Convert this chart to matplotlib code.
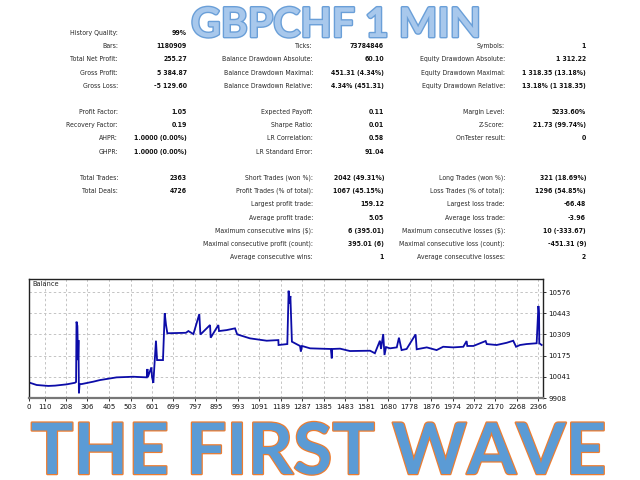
import matplotlib
matplotlib.use("Agg")
import matplotlib.pyplot as plt
import matplotlib.patheffects as pe
from matplotlib import font_manager

# ---------------- data ----------------
col1_rows = [0, 1, 2, 3, 4, 6, 7, 8, 9, 11, 12]
col1_labels = ["History Quality:", "Bars:", "Total Net Profit:", "Gross Profit:", "Gross Loss:",
               "Profit Factor:", "Recovery Factor:", "AHPR:", "GHPR:", "Total Trades:", "Total Deals:"]
col1_values = ["99%", "1180909", "255.27", "5 384.87", "-5 129.60",
               "1.05", "0.19", "1.0000 (0.00%)", "1.0000 (0.00%)", "2363", "4726"]

col2_rows = [1, 2, 3, 4, 6, 7, 8, 9, 11, 12, 13, 14, 15, 16, 17]
col2_labels = ["Ticks:", "Balance Drawdown Absolute:", "Balance Drawdown Maximal:", "Balance Drawdown Relative:",
               "Expected Payoff:", "Sharpe Ratio:", "LR Correlation:", "LR Standard Error:",
               "Short Trades (won %):", "Profit Trades (% of total):", "Largest profit trade:",
               "Average profit trade:", "Maximum consecutive wins ($):", "Maximal consecutive profit (count):",
               "Average consecutive wins:"]
col2_values = ["73784846", "60.10", "451.31 (4.34%)", "4.34% (451.31)",
               "0.11", "0.01", "0.58", "91.04",
               "2042 (49.31%)", "1067 (45.15%)", "159.12",
               "5.05", "6 (395.01)", "395.01 (6)", "1"]

col3_rows = [1, 2, 3, 4, 6, 7, 8, 11, 12, 13, 14, 15, 16, 17]
col3_labels = ["Symbols:", "Equity Drawdown Absolute:", "Equity Drawdown Maximal:", "Equity Drawdown Relative:",
               "Margin Level:", "Z-Score:", "OnTester result:",
               "Long Trades (won %):", "Loss Trades (% of total):", "Largest loss trade:",
               "Average loss trade:", "Maximum consecutive losses ($):", "Maximal consecutive loss (count):",
               "Average consecutive losses:"]
col3_values = ["1", "1 312.22", "1 318.35 (13.18%)", "13.18% (1 318.35)",
               "5233.60%", "21.73 (99.74%)", "0",
               "321 (18.69%)", "1296 (54.85%)", "-66.48",
               "-3.96", "10 (-333.67)", "-451.31 (9)", "2"]

trade_no = [43, 74, 127, 158, 211, 249, 254, 256, 260, 263, 265, 267, 270, 280, 333, 363, 439, 515,
            577, 580, 582, 598, 601, 607, 619, 624, 651, 659, 665, 671, 756, 767, 790, 817, 822,
            866, 869, 904, 907, 942, 980, 990, 1048, 1125, 1178, 1179, 1219, 1225, 1229, 1233, 1240,
            1277, 1281, 1286, 1323, 1368, 1418, 1422, 1424, 1460, 1505, 1597, 1619, 1642, 1647,
            1657, 1663, 1670, 1688, 1719, 1729, 1741, 1764, 1805, 1810, 1856, 1901, 1931, 1977,
            2023, 2038, 2041, 2069, 2125, 2130, 2175, 2221, 2251, 2264, 2282, 2312, 2358, 2366,
            2369, 2370, 2381]
balance = [10004, 9990, 9984, 9986, 9994, 10004, 10009, 10389, 10362, 10147, 10273, 9938, 9996, 9996,
           10011, 10021, 10038, 10042, 10038, 10091, 10040, 10101, 10040, 10004, 10269, 10147, 10147,
           10442, 10368, 10316, 10319, 10330, 10311, 10437, 10308, 10368, 10288, 10368, 10330, 10336,
           10347, 10309, 10284, 10269, 10273, 10242, 10248, 10584, 10505, 10551, 10263, 10236, 10200,
           10236, 10221, 10219, 10217, 10158, 10217, 10219, 10204, 10206, 10190, 10269, 10217, 10311,
           10179, 10229, 10221, 10227, 10288, 10210, 10217, 10309, 10215, 10227, 10210, 10231, 10227,
           10231, 10267, 10236, 10236, 10267, 10248, 10242, 10256, 10269, 10231, 10242, 10248, 10253,
           10488, 10444, 10253, 10242]

x_tick_labels = ["0", "110", "208", "306", "405", "503", "601", "699", "797", "895", "993", "1091",
                 "1189", "1287", "1385", "1483", "1581", "1680", "1778", "1876", "1974", "2072",
                 "2170", "2268", "2366"]
y_ticks = [9908, 10041, 10175, 10309, 10443, 10576]

title_top = "GBPCHF 1 MIN"
title_bottom = "THE FIRST WAVE"

# ---------------- figure ----------------
W, H = 640, 480
fig = plt.figure(figsize=(6.4, 4.8), dpi=100)
fig.patch.set_facecolor("white")
renderer = fig.canvas.get_renderer()

condensed = [f for f in font_manager.fontManager.ttflist
             if f.name == "DejaVu Sans" and str(f.stretch) in ("condensed", "semi-condensed")]
if condensed:
    small_family = ["DejaVu Sans"]
    small_stretch = "condensed"
else:
    small_family = ["Liberation Sans", "DejaVu Sans"]
    small_stretch = "normal"

# fit the table font so that the longest label has the reference width (~110 px)
probe = fig.text(0, 0, "Maximal consecutive profit (count):", fontsize=10, family=small_family,
                 fontstretch=small_stretch)
pw = probe.get_window_extent(renderer).width
probe.remove()
small_fs = 10 * 110.0 / pw

def fx(px):
    return px / W

def fy(py):
    return 1 - py / H

def row_y(r):
    return 33 + 13.18 * r

cols = [
    (col1_rows, col1_labels, col1_values, 118, 187),
    (col2_rows, col2_labels, col2_values, 313, 384),
    (col3_rows, col3_labels, col3_values, 505, 586),
]
for rows, labels, values, lx, vx in cols:
    for r, lab, val in zip(rows, labels, values):
        fig.text(fx(lx), fy(row_y(r)), lab, ha="right", va="center", fontsize=small_fs,
                 family=small_family, fontstretch=small_stretch, color="#2a2a2a")
        fig.text(fx(vx), fy(row_y(r)), val, ha="right", va="center", fontsize=small_fs,
                 family=small_family, fontstretch=small_stretch, fontweight="bold", color="#111111")

# ---------------- balance chart ----------------
x_left, x_right = 39, 2387
ax = fig.add_axes([fx(29), fy(398), fx(543) - fx(29), (398 - 279) / H])
ax.plot(trade_no, balance, color="#0c0ca8", lw=1.3, solid_joinstyle="miter")
ax.set_xlim(x_left, x_right)
ax.set_ylim(9908, 10658)
xt = [x_left] + [int(v) for v in x_tick_labels[1:]]
ax.set_xticks(xt)
ax.set_xticklabels(x_tick_labels)
ax.set_yticks(y_ticks)
ax.set_yticklabels([str(v) for v in y_ticks])
ax.yaxis.tick_right()
ax.tick_params(axis="both", length=2, width=0.6, labelsize=5, pad=2, colors="#111111")
ax.grid(True, linestyle=(0, (2.5, 2.5)), color="#c4c4c4", lw=0.7)
for s in ax.spines.values():
    s.set_color("#222222")
    s.set_linewidth(1.0)
ax.spines["bottom"].set_color("#777777")
ax.spines["bottom"].set_linewidth(1.6)
ax.text(0.006, 0.985, "Balance", transform=ax.transAxes, ha="left", va="top", fontsize=4.8,
        family=small_family, color="#222222")

# ---------------- titles ----------------
def fit_title(txt, cx, baseline, target_w, fs0, family, fill, edge, ew):
    t = fig.text(fx(cx), fy(baseline), txt, ha="center", va="baseline", fontsize=fs0, family=family,
                 fontweight="bold", color=fill)
    bb = t.get_window_extent(renderer)
    t.set_fontsize(fs0 * target_w / bb.width)
    t.set_path_effects([pe.Stroke(linewidth=ew, foreground=edge), pe.Normal()])
    return t

fit_title(title_top, 336, 37, 290, 30, ["Lato", "DejaVu Sans"], "#a8c8ec", "#6a9fd8", 2.0)
fit_title(title_bottom, 318.5, 474, 576, 50, ["Lato", "DejaVu Sans"], "#5b9bd5", "#ed7d31", 1.8)

fig.savefig("out.png", dpi=100, facecolor="white")
